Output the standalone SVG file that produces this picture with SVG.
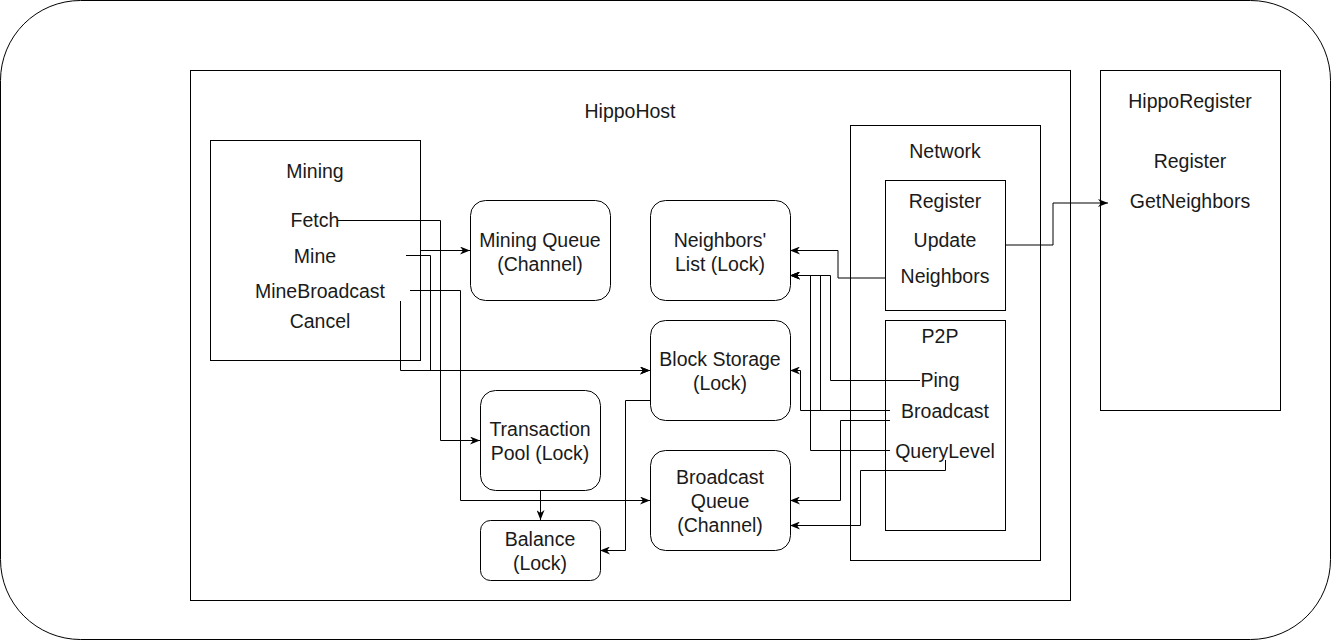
<svg xmlns="http://www.w3.org/2000/svg" width="1331" height="641" viewBox="0 0 1331 641">
<style>
.b{fill:#fff;stroke:#000;stroke-width:1}
.t{font-family:"Liberation Sans",Arial,sans-serif;font-size:19.5px;fill:#1a1a1a;text-anchor:middle}
.c{fill:none;stroke:#000;stroke-width:1}
.g{fill:none;stroke:#000;stroke-width:1}
</style>
<defs>
<marker id="a" viewBox="0 0 10 8" refX="10" refY="4" markerWidth="10" markerHeight="8" orient="auto" markerUnits="userSpaceOnUse">
<path d="M0,0 L10,4 L0,8 L3,4 z" fill="#000"/>
</marker>
</defs>
<g id="outer"><rect class="b" x="0.5" y="0.5" width="1330" height="639" rx="80" ry="80"/></g>
<g id="hippohost"><rect class="b" x="190.5" y="70.5" width="880" height="530"/><text class="t" x="630" y="118">HippoHost</text></g>
<g id="mining"><rect class="b" x="210.5" y="140.5" width="210" height="220"/>
<text class="t" x="315" y="178">Mining</text>
<text class="t" x="315" y="227">Fetch</text>
<text class="t" x="315" y="263">Mine</text>
<text class="t" x="320" y="298">MineBroadcast</text>
<text class="t" x="320" y="328">Cancel</text></g>
<g id="miningqueue"><rect class="b" x="470.5" y="200.5" width="140" height="100" rx="15"/><text class="t" x="540" y="247">Mining Queue</text><text class="t" x="540" y="271">(Channel)</text></g>
<g id="neighborslist"><rect class="b" x="650.5" y="200.5" width="140" height="100" rx="15"/><text class="t" x="720" y="247">Neighbors'</text><text class="t" x="720" y="271">List (Lock)</text></g>
<g id="blockstorage"><rect class="b" x="650.5" y="320.5" width="140" height="100" rx="15"/><text class="t" x="720" y="366">Block Storage</text><text class="t" x="720" y="390">(Lock)</text></g>
<g id="txpool"><rect class="b" x="480.5" y="390.5" width="120" height="100" rx="15"/><text class="t" x="540" y="436">Transaction</text><text class="t" x="540" y="460">Pool (Lock)</text></g>
<g id="broadcastqueue"><rect class="b" x="650.5" y="450.5" width="140" height="100" rx="15"/><text class="t" x="720" y="484">Broadcast</text><text class="t" x="720" y="508">Queue</text><text class="t" x="720" y="532">(Channel)</text></g>
<g id="balance"><rect class="b" x="480.5" y="520.5" width="120" height="60" rx="10"/><text class="t" x="540" y="546">Balance</text><text class="t" x="540" y="570">(Lock)</text></g>
<g id="network"><rect class="b" x="850.5" y="125.5" width="190" height="435"/><text class="t" x="945" y="158">Network</text></g>
<g id="register"><rect class="b" x="885.5" y="180.5" width="120" height="130"/>
<text class="t" x="945" y="208">Register</text><text class="t" x="945" y="247">Update</text><text class="t" x="945" y="283">Neighbors</text></g>
<g id="p2p"><rect class="b" x="885.5" y="320.5" width="120" height="210"/>
<text class="t" x="940" y="343">P2P</text><text class="t" x="940" y="387">Ping</text><text class="t" x="945" y="418">Broadcast</text><text class="t" x="945" y="458">QueryLevel</text></g>
<g id="hipporegister"><rect class="b" x="1100.5" y="70.5" width="180" height="340"/>
<text class="t" x="1190" y="108">HippoRegister</text><text class="t" x="1190" y="168">Register</text><text class="t" x="1190" y="208">GetNeighbors</text></g>
<g id="connectors" marker-end="url(#a)">
<path class="c" d="M420.5,250.5 H470" marker-end="url(#a)"/>
<path class="c" d="M338,220.5 H440.5 V440.5 H480" marker-end="url(#a)"/>
<path class="c" d="M406,255.5 H430.5 V370.5 H650" marker-end="url(#a)"/>
<path class="c" d="M400.5,301 V370.5 H650" marker-end="url(#a)"/>
<path class="c" d="M410,290.5 H460.5 V500.5 H650" marker-end="url(#a)"/>
<path class="c" d="M540.5,490 V520" marker-end="url(#a)"/>
<path class="c" d="M650,400.5 H625.5 V550.5 H600" marker-end="url(#a)"/>
<path class="g" d="M885,278 H838 V250.5 H790" marker-end="url(#a)"/>
<path class="c" d="M920,380.5 H830.5 V275.5 H790" marker-end="url(#a)"/>
<path class="c" d="M890,410.5 H820.5 V275.5 H790" marker-end="url(#a)"/>
<path class="c" d="M890,410.5 H800.5 V370.5 H790" marker-end="url(#a)"/>
<path class="c" d="M890,420.5 H840.5 V500.5 H790" marker-end="url(#a)"/>
<path class="c" d="M890,450.5 H810.5 V275.5 H790" marker-end="url(#a)"/>
<path class="c" d="M945.5,460 V470.5 H860.5 V525.5 H790" marker-end="url(#a)"/>
<path class="g" d="M1005,245 H1053 V203 H1108" marker-end="url(#a)"/>
</g>
</svg>
